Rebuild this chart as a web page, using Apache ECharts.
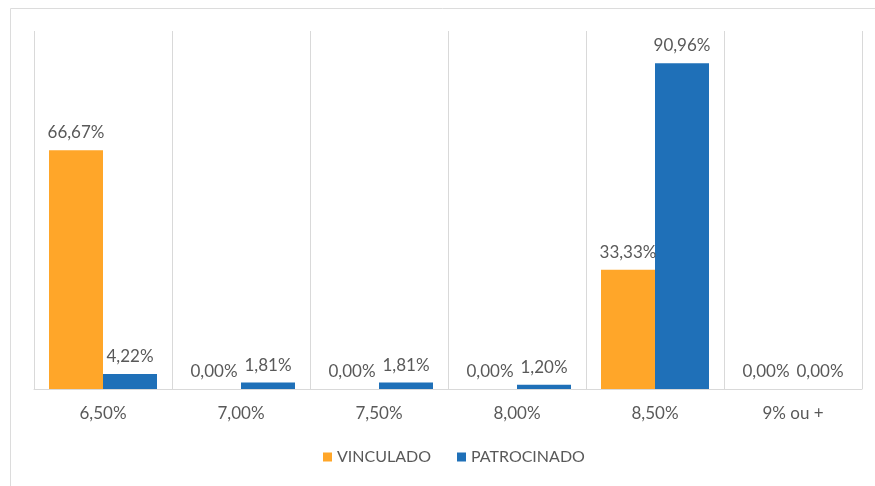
<!DOCTYPE html>
<html>
<head>
<meta charset="utf-8">
<script src="https://cdn.jsdelivr.net/npm/echarts@6/dist/echarts.min.js"></script>
<style>
  html, body { margin: 0; padding: 0; background: #fff; }
  #chart { width: 875px; height: 486px; }
</style>
</head>
<body>
<div id="chart"></div>
<script>
  // categorias (taxa)
  const categorias = ['6,50%', '7,00%', '7,50%', '8,00%', '8,50%', '9% ou +'];
  const vinculado = [66.67, 0, 0, 0, 33.33, 0];
  const patrocinado = [4.22, 1.81, 1.81, 1.20, 90.96, 0];

  const corLaranja = '#FFA629';
  const corAzul = '#1F70B8';
  const corTexto = '#595959';
  const fonte = 'Lato, "Open Sans", sans-serif';

  function fmt(p) {
    return p.value.toFixed(2).replace('.', ',') + '%';
  }

  const chart = echarts.init(document.getElementById('chart'));
  chart.setOption({
    animation: false,
    textStyle: { fontFamily: fonte },
    grid: { left: 34, right: 13, top: 31, bottom: 97 },
    // moldura (borda superior e esquerda)
    graphic: [{
      type: 'polyline',
      shape: { points: [[10.5, 486], [10.5, 8.5], [875, 8.5]] },
      style: { stroke: '#dcdcdc', lineWidth: 1, fill: null }
    }],
    legend: {
      bottom: 16,
      left: 318,
      icon: 'rect',
      itemWidth: 9,
      itemHeight: 9,
      itemGap: 26,
      textStyle: { color: corTexto, fontSize: 16, fontFamily: fonte },
      data: ['VINCULADO', 'PATROCINADO']
    },
    xAxis: {
      type: 'category',
      data: categorias,
      axisLine: { lineStyle: { color: '#d9d9d9' } },
      axisTick: { show: false },
      splitLine: { show: true, lineStyle: { color: '#d9d9d9' } },
      axisLabel: { color: corTexto, fontSize: 17, margin: 16, fontFamily: fonte }
    },
    yAxis: {
      type: 'value',
      min: 0,
      max: 100,
      show: false
    },
    series: [
      {
        name: 'VINCULADO',
        type: 'bar',
        data: vinculado,
        barWidth: 54,
        barGap: '0%',
        itemStyle: { color: corLaranja },
        label: {
          show: true, position: 'top', distance: 9,
          color: corTexto, fontSize: 17, fontFamily: fonte, formatter: fmt
        }
      },
      {
        name: 'PATROCINADO',
        type: 'bar',
        data: patrocinado,
        barWidth: 54,
        itemStyle: { color: corAzul },
        label: {
          show: true, position: 'top', distance: 9,
          color: corTexto, fontSize: 17, fontFamily: fonte, formatter: fmt
        }
      }
    ]
  });
</script>
</body>
</html>
